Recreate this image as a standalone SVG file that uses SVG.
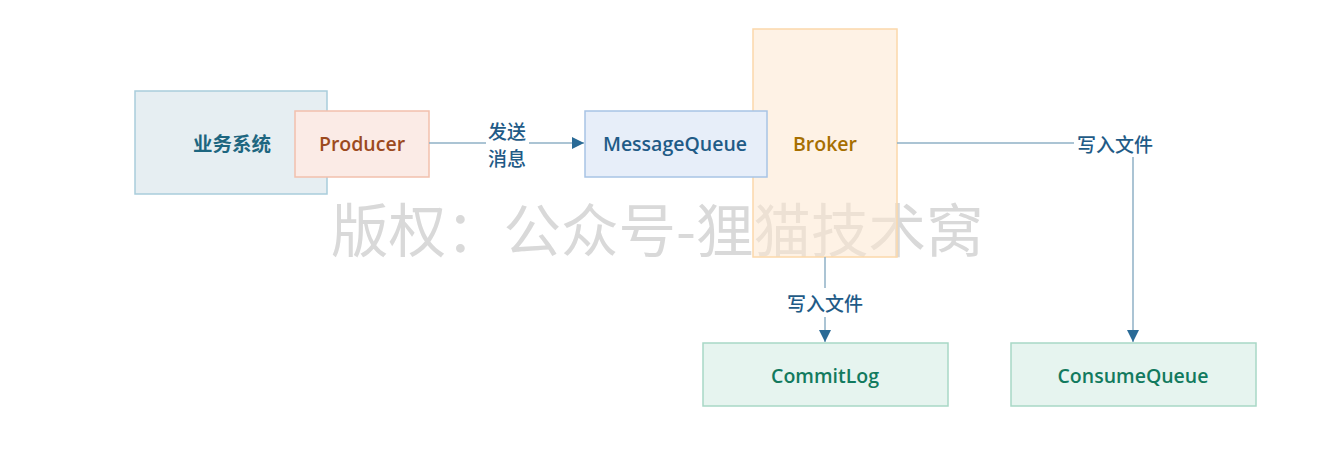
<svg xmlns="http://www.w3.org/2000/svg" width="1324" height="458" viewBox="0 0 1324 458">
<style>
.lbl{font-family:"Open Sans","Noto Sans CJK SC",sans-serif;font-weight:600;font-size:19.5px;text-anchor:middle;dominant-baseline:central}
.edge{fill:none;stroke:#8fb1c6;stroke-width:1.5}
.elbl{font-family:"Noto Sans CJK SC",sans-serif;font-weight:500;font-size:19px;fill:#1f5b87;text-anchor:middle;dominant-baseline:central}
.wm{font-family:"Noto Sans CJK SC",sans-serif;font-size:57.5px;fill:#d9d9d9}
</style>
<defs>
<marker id="arr" viewBox="0 0 10 10" refX="10" refY="5" markerWidth="12" markerHeight="12" markerUnits="userSpaceOnUse" orient="auto">
<path d="M0,0 L10,5 L0,10 z" fill="#2a6a96"/>
</marker>
</defs>
<rect width="1324" height="458" fill="#ffffff"/>
<text class="wm" x="331" y="252">版权：公众号-狸猫技术窝</text>
<g id="biz">
<rect x="135" y="91" width="192" height="103" fill="#e6eef2" stroke="#a9cddb" stroke-width="1.5"/>
<text class="lbl" x="232" y="143" fill="#1d6680">业务系统</text>
</g>
<g id="producer">
<rect x="295" y="111" width="134" height="66" fill="#fbebe6" stroke="#f2c0ad" stroke-width="1.5"/>
<text class="lbl" x="362" y="143" fill="#9c4a1e">Producer</text>
</g>
<g id="broker">
<rect x="753" y="29" width="144" height="228" fill="#fde8cf" fill-opacity="0.55" stroke="#fbd8aa" stroke-width="1.5"/>
<text class="lbl" x="825" y="143" fill="#a66f00">Broker</text>
</g>
<g id="mq">
<rect x="585" y="111" width="182" height="66" fill="#e7eef9" stroke="#a8c4e5" stroke-width="1.5"/>
<text class="lbl" x="675" y="143" fill="#1f5b87">MessageQueue</text>
</g>
<g id="commitlog">
<rect x="703" y="343" width="245" height="63" fill="#e6f4ef" stroke="#a8d8c6" stroke-width="1.5"/>
<text class="lbl" x="825" y="375" fill="#127a5e">CommitLog</text>
</g>
<g id="consumequeue">
<rect x="1011" y="343" width="245" height="63" fill="#e6f4ef" stroke="#a8d8c6" stroke-width="1.5"/>
<text class="lbl" x="1133" y="375" fill="#127a5e">ConsumeQueue</text>
</g>
<g id="connectors">
<path class="edge" d="M429,143 H486"/>
<path class="edge" d="M529,143 H584" marker-end="url(#arr)"/>
<text class="elbl" x="507" y="130">发送</text>
<text class="elbl" x="507" y="157">消息</text>
<path class="edge" d="M897,143 H1074"/>
<text class="elbl" x="1115" y="143">写入文件</text>
<path class="edge" d="M1133,157 V342" marker-end="url(#arr)"/>
<path class="edge" d="M825,257 V288"/>
<text class="elbl" x="825" y="302">写入文件</text>
<path class="edge" d="M825,317 V342" marker-end="url(#arr)"/>
</g>
</svg>
